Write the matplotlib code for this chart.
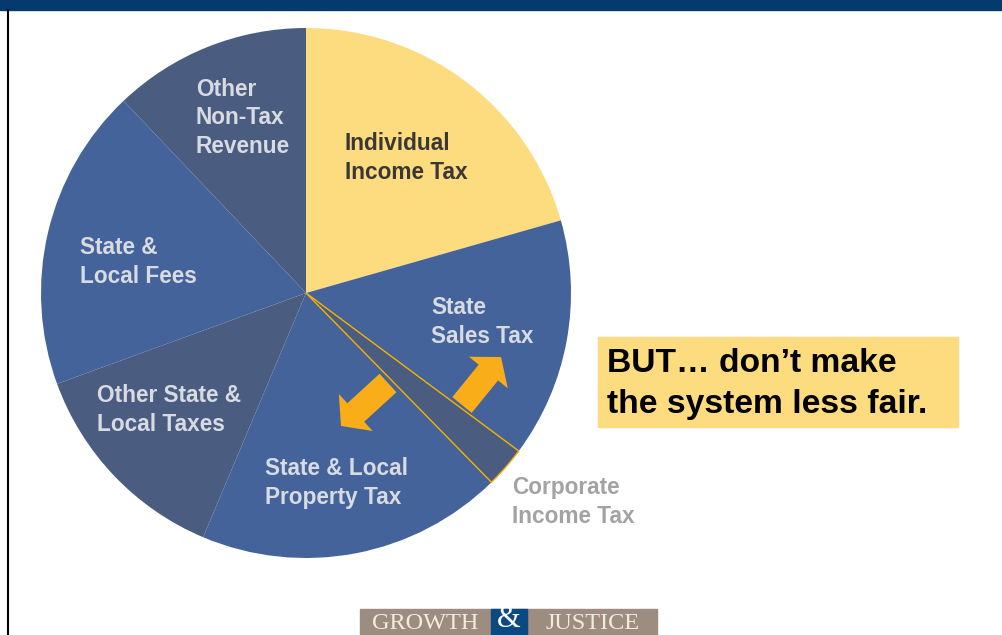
import matplotlib
matplotlib.use("Agg")
import matplotlib.pyplot as plt
from matplotlib.patches import Rectangle, FancyArrow

# revenue shares (percent), clockwise from 12 o'clock
categories = ["Individual Income Tax", "State Sales Tax", "Corporate Income Tax",
              "State & Local Property Tax", "Other State & Local Taxes",
              "State & Local Fees", "Other Non-Tax Revenue"]
shares = [20.6, 14.6, 2.5, 18.7, 13.1, 18.5, 12.1]

YELLOW = "#FDDB7F"
BLUE = "#44639A"
SLATE = "#4A5D81"
ORANGE = "#F9AE19"
slice_colors = [YELLOW, BLUE, SLATE, BLUE, SLATE, BLUE, SLATE]

W, H = 1003, 635
fig = plt.figure(figsize=(W / 100, H / 100), dpi=100)
ax = fig.add_axes([0, 0, 1, 1])
ax.set_axis_off()


def py(y):
    # page coordinates are measured from the top
    return H - y


wedges, _ = ax.pie(shares, colors=slice_colors, startangle=90, counterclock=False,
                   center=(306, py(293)), radius=265,
                   wedgeprops=dict(linewidth=0))
# outline the corporate slice
wedges[2].set_edgecolor("#F5B000")
wedges[2].set_linewidth(1.0)
wedges[2].set_zorder(3)

ax.set_xlim(0, W)
ax.set_ylim(0, H)
ax.set_aspect("auto")

# header band and left rule
ax.add_patch(Rectangle((0, py(10)), W, 10, color="#043A6D", zorder=5))
ax.plot([8, 8], [0, py(10)], color="black", lw=1.5, zorder=5)

lab = dict(fontsize=16.3, fontweight="bold", family="Liberation Sans",
           ha="left", va="center", linespacing=1.3, zorder=6)
light = "#D8DBE2"
ax.text(196, py(118), "Other\nNon-Tax\nRevenue", color=light, **lab)
ax.text(345, py(158), "Individual\nIncome Tax", color="#3A3835", **lab)
ax.text(80, py(262), "State &\nLocal Fees", color=light, **lab)
ax.text(431, py(322), "State\nSales Tax", color=light, **lab)
ax.text(97, py(410), "Other State &\nLocal Taxes", color=light, **lab)
ax.text(265, py(483), "State & Local\nProperty Tax", color=light, **lab)
ax.text(512, py(502), "Corporate\nIncome Tax", color="#A3A3A3", **lab)

# arrows: shift away from the corporate slice
ax.add_patch(FancyArrow(462, py(405), 39, 48, width=25, head_width=50, head_length=20,
                        length_includes_head=True, color=ORANGE, lw=0, zorder=4))
ax.add_patch(FancyArrow(388, py(383), -47, -43, width=25, head_width=50, head_length=20,
                        length_includes_head=True, color=ORANGE, lw=0, zorder=4))

# callout box
ax.add_patch(Rectangle((598, py(427)), 360, 90, color=YELLOW, zorder=5))
ax.text(607, py(384), "BUT\u2026 don\u2019t make\nthe system less fair.", fontsize=24.2,
        fontweight="bold", family="Liberation Sans", color="black",
        ha="left", va="center", linespacing=1.42, zorder=6)

# footer logo
ax.add_patch(Rectangle((360, 0), 297, py(609), color="#9D8C80", zorder=5))
ax.add_patch(Rectangle((491, 0), 36, py(609), color="#0B4A80", zorder=6))
logo = dict(family="Liberation Serif", fontsize=17.5, color="#F3EBDF", va="bottom", zorder=7)
ax.text(425, 1, "GROWTH", ha="center", **logo)
ax.text(593, 1, "JUSTICE", ha="center", **logo)
ax.text(509, 1, "&", ha="center", family="Liberation Serif", fontsize=22,
        color="white", va="bottom", zorder=7)

fig.savefig("out.png", dpi=100, facecolor="white")
